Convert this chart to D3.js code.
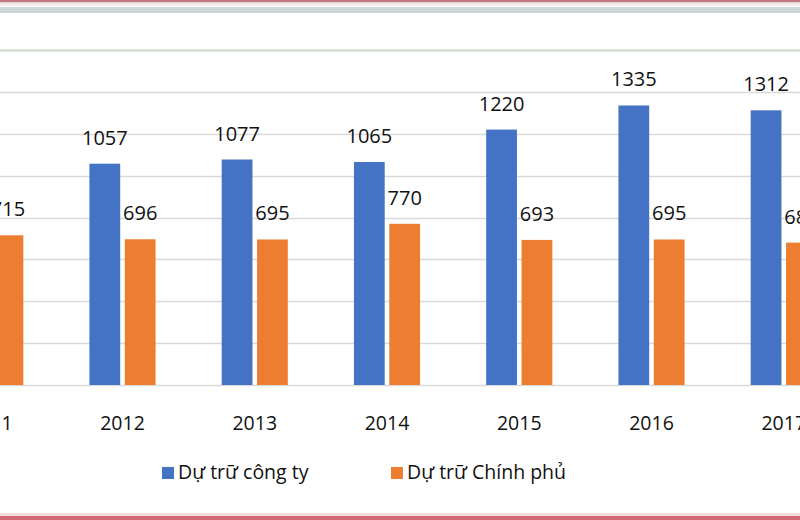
<!DOCTYPE html>
<html>
<head>
<meta charset="utf-8">
<script src="https://cdn.jsdelivr.net/npm/d3@7"></script>
<style>
  html, body { margin: 0; padding: 0; background: #fff; }
  svg { display: block; }
</style>
</head>
<body>
<svg id="chart" width="800" height="520"></svg>
<script>
const years = ["2011", "2012", "2013", "2014", "2015", "2016", "2017"];
const seriesNames = ["Dự trữ công ty", "Dự trữ Chính phủ"];
const companyReserve = [1045, 1057, 1077, 1065, 1220, 1335, 1312];
const governmentReserve = [715, 696, 695, 770, 693, 695, 680];
const yTicks = [0, 200, 400, 600, 800, 1000, 1200, 1400, 1600];
const colors = ["#4472C4", "#ED7D31"];

const rows = years.map((y, i) => ({ year: y, values: [companyReserve[i], governmentReserve[i]] }));

const svg = d3.select("#chart");
const font = "'Open Sans', 'Noto Sans', sans-serif";

// frame decorations
svg.append("rect").attr("x", 0).attr("y", 0).attr("width", 800).attr("height", 2.5).attr("fill", "#c27880");
svg.append("rect").attr("x", 0).attr("y", 2.5).attr("width", 800).attr("height", 3).attr("fill", "#f1e4e4");
svg.append("rect").attr("x", 0).attr("y", 7).attr("width", 800).attr("height", 6).attr("fill", "#cdd7d8");
svg.append("rect").attr("x", 0).attr("y", 516).attr("width", 800).attr("height", 4).attr("fill", "#d46a78");
svg.append("rect").attr("x", 0).attr("y", 513).attr("width", 800).attr("height", 3).attr("fill", "#f3dcdc");

const y = d3.scaleLinear().domain([0, 1600]).range([385, 50]);
const step = 132.25;
const x0 = d3.scaleBand().domain(years)
  .range([-9.75 - step / 2, -9.75 - step / 2 + step * years.length])
  .paddingInner(0.5).paddingOuter(0.25);
const x1 = d3.scaleBand().domain([0, 1]).range([0, x0.bandwidth()]).paddingInner(0.13);

// gridlines
svg.append("g").selectAll("line").data(yTicks).join("line")
  .attr("x1", 0).attr("x2", 800)
  .attr("y1", d => Math.round(y(d)) + 0.5).attr("y2", d => Math.round(y(d)) + 0.5)
  .attr("stroke", d => d === 1600 ? "#d3dccf" : "#d9d9d9")
  .attr("stroke-width", d => d === 1600 ? 2.5 : 1.6);

// bars
const groups = svg.append("g").selectAll("g").data(rows).join("g")
  .attr("transform", d => `translate(${x0(d.year)},0)`);

groups.selectAll("rect").data(d => d.values.map((v, i) => ({ v, i }))).join("rect")
  .attr("x", d => x1(d.i)).attr("width", x1.bandwidth())
  .attr("y", d => y(d.v)).attr("height", d => y(0) - y(d.v))
  .attr("fill", d => colors[d.i]);

groups.selectAll("text").data(d => d.values.map((v, i) => ({ v, i }))).join("text")
  .attr("x", d => x1(d.i) + x1.bandwidth() / 2)
  .attr("y", d => y(d.v) - 19)
  .attr("text-anchor", "middle")
  .attr("font-family", font).attr("font-size", 20)
  .attr("fill", "#111")
  .text(d => d.v);

// x axis labels
svg.append("g").selectAll("text").data(years).join("text")
  .attr("x", d => x0(d) + x0.bandwidth() / 2)
  .attr("y", 430)
  .attr("text-anchor", "middle")
  .attr("font-family", font).attr("font-size", 19.5)
  .attr("fill", "#111")
  .text(d => d);

// legend
const legendX = [162, 391];
const lg = svg.append("g").selectAll("g").data(seriesNames).join("g")
  .attr("transform", (d, i) => `translate(${legendX[i]},467)`);
lg.append("rect").attr("width", 12).attr("height", 12).attr("fill", (d, i) => colors[i]);
lg.append("text").attr("x", 16).attr("y", 12)
  .attr("font-family", font).attr("font-size", 19.5).attr("fill", "#111")
  .text(d => d);
</script>
</body>
</html>
